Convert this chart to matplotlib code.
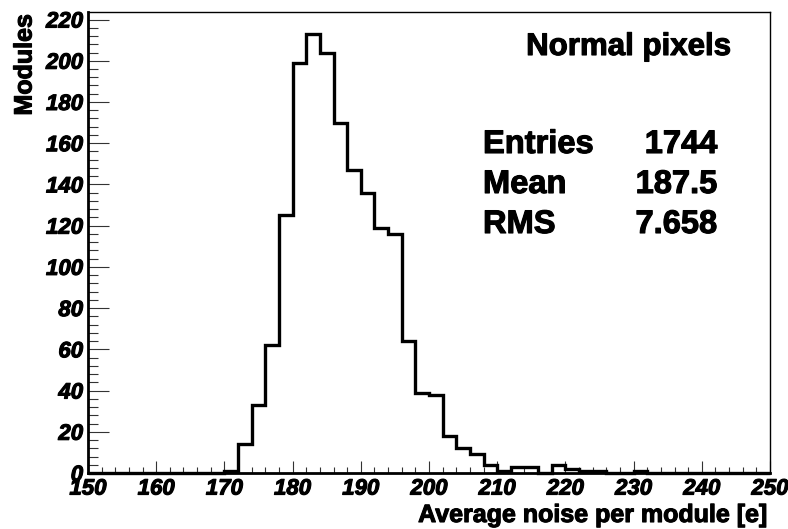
import numpy as np
import matplotlib
matplotlib.use("Agg")
import matplotlib.pyplot as plt
import matplotlib.patheffects as pe
from matplotlib.font_manager import FontProperties
from matplotlib.ticker import MultipleLocator

# Histogram of average noise per module, 2 e wide bins from 150 to 250
bin_edges = np.arange(150, 252, 2)
counts = [0, 0, 0, 0, 0, 0, 0, 0, 0, 0,
          1, 14, 33, 62, 125, 199, 213, 204, 170, 147,
          136, 119, 116, 64, 39, 38, 18, 12, 9, 4,
          1, 3, 3, 0, 4, 2, 1, 1, 0, 0,
          1, 0, 0, 0, 0, 0, 0, 0, 0, 0]

title_text = "Normal pixels"
stat_names = ["Entries", "Mean", "RMS"]
stat_values = ["1744", "187.5", "7.658"]
x_label = "Average noise per module [e]"
y_label = "Modules"

W, H = 788, 529
fig = plt.figure(figsize=(W / 100, H / 100), dpi=100)

def fx(px):
    return px / W

def fy(py):
    return 1 - py / H

heavy = [pe.withStroke(linewidth=0.8, foreground="black")]

ax_l, ax_r, ax_t, ax_b = 88, 770, 12, 473
ax = fig.add_axes([fx(ax_l), fy(ax_b), fx(ax_r) - fx(ax_l), fy(ax_t) - fy(ax_b)])

ax.stairs(counts, bin_edges, color="black", linewidth=2.4, baseline=0,
          clip_on=False, zorder=3)

ax.set_xlim(150, 250)
ax.set_ylim(0, 1.05 * max(counts))

# frame: thick axis lines on left/bottom, thin on top/right
for side in ("left", "bottom"):
    ax.spines[side].set_linewidth(2.0)
for side in ("top", "right"):
    ax.spines[side].set_linewidth(1.0)

ax.xaxis.set_major_locator(MultipleLocator(10))
ax.xaxis.set_minor_locator(MultipleLocator(2))
ax.yaxis.set_major_locator(MultipleLocator(20))
ax.yaxis.set_minor_locator(MultipleLocator(4))

ax.tick_params(axis="x", which="major", direction="in", length=8.6, width=0.8,
               color="#333333", top=False, pad=4)
ax.tick_params(axis="x", which="minor", direction="in", length=4.3, width=0.8,
               color="#333333", top=False)
ax.tick_params(axis="y", which="major", direction="in", length=15, width=0.8,
               color="#333333", right=False, pad=3.5)
ax.tick_params(axis="y", which="minor", direction="in", length=7.5, width=0.8,
               color="#333333", right=False)

tick_fp = FontProperties(family=["Liberation Sans", "DejaVu Sans"], weight="bold",
                         style="italic", size=16)
for lab in ax.get_xticklabels() + ax.get_yticklabels():
    lab.set_fontproperties(tick_fp)
    lab.set_path_effects(heavy)

label_font = dict(family=["Liberation Sans", "DejaVu Sans"], weight="bold", size=18)
fig.text(fx(768), fy(522), x_label, ha="right", va="baseline",
         path_effects=heavy, **label_font)
fig.text(fx(24.5), fy(14), y_label, rotation=90, ha="center", va="top",
         path_effects=heavy, **label_font)

stat_font = dict(family=["Liberation Sans", "DejaVu Sans"], weight="bold", size=22.5)
fig.text(fx(731), fy(55), title_text, ha="right", va="baseline",
         path_effects=heavy, **stat_font)
for i, (name, val) in enumerate(zip(stat_names, stat_values)):
    y = 153 + i * 40
    fig.text(fx(483), fy(y), name, ha="left", va="baseline",
             path_effects=heavy, fontsize=23.5,
             family=["Liberation Sans", "DejaVu Sans"], weight="bold")
    fig.text(fx(717), fy(y), val, ha="right", va="baseline",
             path_effects=heavy, fontsize=23.5,
             family=["Liberation Sans", "DejaVu Sans"], weight="bold")

fig.savefig("out.png", dpi=100)
